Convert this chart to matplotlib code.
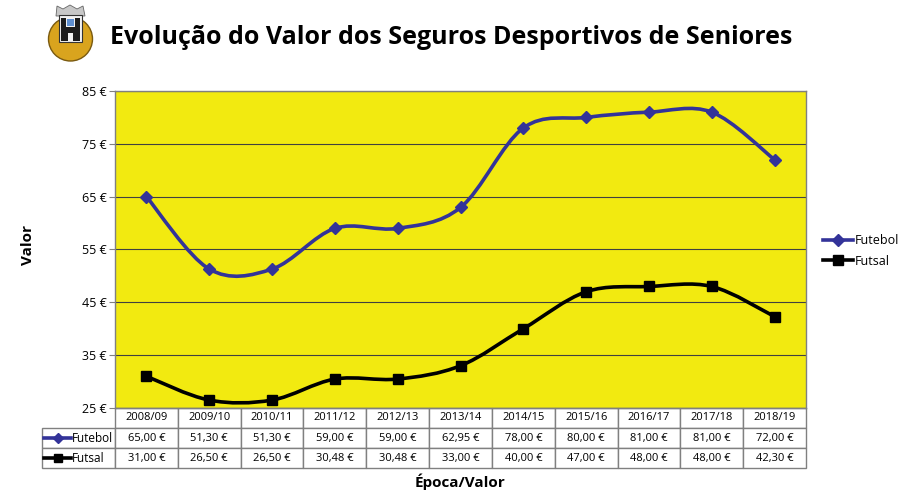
import numpy as np
import matplotlib
matplotlib.use('Agg')
import matplotlib.pyplot as plt
from matplotlib.path import Path
from matplotlib.patches import PathPatch, Circle, Rectangle, Polygon
from matplotlib.lines import Line2D

epocas = ['2008/09', '2009/10', '2010/11', '2011/12', '2012/13', '2013/14',
          '2014/15', '2015/16', '2016/17', '2017/18', '2018/19']
futebol = [65.00, 51.30, 51.30, 59.00, 59.00, 62.95, 78.00, 80.00, 81.00, 81.00, 72.00]
futsal = [31.00, 26.50, 26.50, 30.48, 30.48, 33.00, 40.00, 47.00, 48.00, 48.00, 42.30]
yticks = [25, 35, 45, 55, 65, 75, 85]

YELLOW = '#f2ea10'
BLUE = '#333399'
FONT = 'Open Sans'


def fmt(v):
    return ('%.2f €' % v).replace('.', ',')


def smooth_path(x, y):
    # bezier segments like excel's smoothed line
    p = np.column_stack([x, y]).astype(float)
    n = len(p)
    verts = [p[0]]
    codes = [Path.MOVETO]
    for i in range(n - 1):
        p0 = p[max(i - 1, 0)]
        p3 = p[min(i + 2, n - 1)]
        c1 = p[i] + (p[i + 1] - p0) / 6
        c2 = p[i + 1] - (p3 - p[i]) / 6
        verts += [c1, c2, p[i + 1]]
        codes += [Path.CURVE4] * 3
    return Path(verts, codes)


fig = plt.figure(figsize=(9.1, 5), dpi=100)
ax = fig.add_axes([115 / 910, 1 - 408 / 500, 691 / 910, 317 / 500])
ax.set_facecolor(YELLOW)

x = np.arange(len(epocas))
for vals, col, mk, ms in [(futebol, BLUE, 'D', 6), (futsal, 'black', 's', 6.5)]:
    ax.add_patch(PathPatch(smooth_path(x, vals), fill=False, edgecolor=col, lw=2.6, zorder=3))
    ax.plot(x, vals, ls='none', marker=mk, ms=ms, color=col, zorder=4)

ax.set_xlim(-0.5, len(epocas) - 0.5)
ax.set_ylim(25, 85)
ax.set_yticks(yticks)
ax.set_yticklabels(['%d €' % t for t in yticks], fontsize=9, family=FONT)
ax.set_xticks([])
ax.tick_params(axis='y', length=4, color='#808080', pad=2)
ax.grid(axis='y', color='#404040', lw=0.8)
ax.set_axisbelow(True)
for s in ax.spines.values():
    s.set_color('#808080')
    s.set_linewidth(1)

# data table under the plot
ncol = len(epocas)
lab_w = 73 / 691
row_h = 20 / 317
tbl = ax.table(cellText=[[''] + [fmt(v) for v in futebol], [''] + [fmt(v) for v in futsal]],
               colLabels=[''] + epocas,
               colWidths=[lab_w] + [1 / ncol] * ncol,
               cellLoc='center',
               bbox=[-lab_w, -3 * row_h, 1 + lab_w, 3 * row_h])
tbl.auto_set_font_size(False)
for (r, c), cell in tbl.get_celld().items():
    cell.set_edgecolor('#808080')
    cell.set_linewidth(1)
    cell.set_facecolor('white')
    cell.get_text().set_fontsize(8)
    cell.get_text().set_family(FONT)
tbl[0, 0].visible_edges = 'open'
tbl[0, 0].set_facecolor('none')

for i, (name, col, mk) in enumerate([('Futebol', BLUE, 'D'), ('Futsal', 'black', 's')]):
    yy = -row_h * (1.5 + i)
    x0 = -lab_w + 2 / 691
    x1 = -lab_w + 29 / 691
    ax.add_line(Line2D([x0, x1], [yy, yy], color=col, lw=2.6,
                       transform=ax.transAxes, clip_on=False))
    ax.plot([(x0 + x1) / 2], [yy], marker=mk, ms=5.5, color=col,
            transform=ax.transAxes, clip_on=False)
    ax.text(x1 + 0.001, yy, name, fontsize=8.5, family=FONT, va='center', ha='left',
            transform=ax.transAxes)

# legend at right
handles = [Line2D([], [], color=BLUE, lw=2.6, marker='D', ms=6),
           Line2D([], [], color='black', lw=2.6, marker='s', ms=6.5)]
fig.legend(handles, ['Futebol', 'Futsal'], loc='center left', bbox_to_anchor=(812 / 910, 1 - 251 / 500),
           frameon=False, prop={'family': FONT, 'size': 9}, handlelength=2.4, handletextpad=0.1,
           labelspacing=0.6)

fig.text(28 / 910, 1 - 245 / 500, 'Valor', rotation=90, fontsize=11, fontweight='bold',
         family=FONT, va='center', ha='center')
fig.text(460 / 910, 1 - 482 / 500, 'Época/Valor', fontsize=11, fontweight='bold',
         family=FONT, va='center', ha='center')
fig.text(110 / 910, 1 - 37 / 500, 'Evolução do Valor dos Seguros Desportivos de Seniores',
         fontsize=18, fontweight='bold', family=FONT, va='center', ha='left')

# crest (pixel coords, y downwards)
lg = fig.add_axes([40 / 910, 1 - 65 / 500, 65 / 910, 65 / 500])
lg.set_xlim(40, 105)
lg.set_ylim(65, 0)
lg.axis('off')
lg.add_patch(Circle((70.5, 39), 22, facecolor='#d9a41e', edgecolor='#7a5a10', lw=1))
lg.add_patch(Polygon([[56, 16], [57, 6], [63, 9], [70, 5], [77, 9], [83, 6], [85, 16]],
                     facecolor='#c8c8c8', edgecolor='#666666', lw=0.6))
lg.add_patch(Rectangle((59, 15), 23, 27, facecolor='#f2f2f2', edgecolor='#333333', lw=0.8))
lg.add_patch(Rectangle((61, 27), 19, 14, facecolor='#1c1c1c'))
lg.add_patch(Rectangle((61, 18), 5, 10, facecolor='#1c1c1c'))
lg.add_patch(Rectangle((75, 18), 5, 10, facecolor='#1c1c1c'))
lg.add_patch(Rectangle((67, 19), 7, 7, facecolor='#5f8fd0'))
lg.add_patch(Rectangle((68, 33), 5, 8, facecolor='#f2f2f2'))

fig.savefig('out.png', dpi=100)
